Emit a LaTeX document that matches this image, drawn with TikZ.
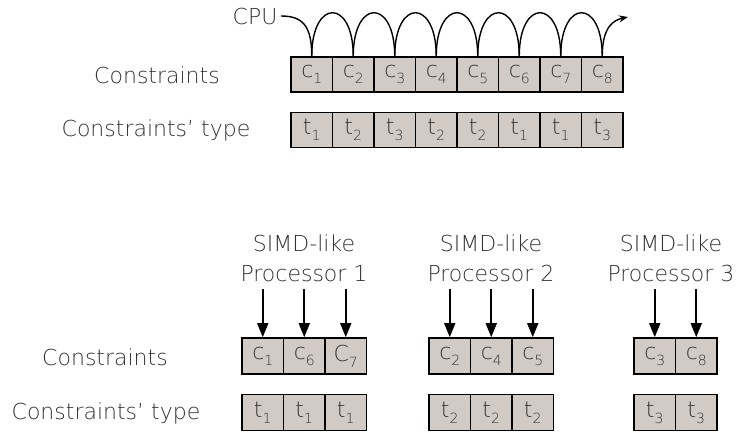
\documentclass[tikz,border=0pt]{standalone}
\usepackage{fontspec}
\IfFontExistsTF{DejaVu Sans ExtraLight}{\setmainfont{DejaVu Sans ExtraLight}}{\setmainfont{DejaVu Sans}}
\usetikzlibrary{arrows.meta,positioning}

\definecolor{boxgray}{HTML}{D2CBC5}
\definecolor{textgray}{HTML}{333333}
\newcommand\idx[1]{\raisebox{-6pt}{\fontsize{14}{14}\selectfont #1}}

\tikzset{
  cbox/.style={draw, line width=1.6pt, fill=boxgray, minimum width=41.5pt,
    minimum height=35pt, inner sep=0pt, text=textgray,
    font=\fontsize{22}{24}\selectfont},
  lbl/.style={text=textgray, font=\fontsize{22}{30}\selectfont, align=center},
  hop/.style={line width=1.4pt},
  feed/.style={line width=1.6pt, -{Triangle[length=14pt,width=11pt]}},
}

\begin{document}
\begin{tikzpicture}[x=1pt,y=-1pt]
  \useasboundingbox (0,0) rectangle (737,433);

  % draw constraints and their types
  \foreach \t [count=\i] in {1,2,3,2,2,1,1,3} {
    \node[cbox] (c\i) at ({291+41.5*(\i-0.5)},74.5) {c\idx{\i}};
    \node[cbox] (t\i) at ({291+41.5*(\i-0.5)},130) {t\idx{\t}};
  }
  \node[lbl] (cons) at (157,75) {Constraints};
  \node[lbl] (type) at (156,130) {Constraints' type};

  % draw CPU path over the constraints
  \node[lbl, anchor=east] (cpu) at (281,16) {CPU};
  \coordinate (out) at (628,17);
  \draw[hop] (cpu.east) .. controls +(22,0) and +(0,-30) .. (c1.north);
  \foreach \i [count=\j from 2] in {1,...,7}
    \draw[hop] (c\i.north) .. controls +(0,-58) and +(0,-58) .. (c\j.north);
  \draw[hop, -{Stealth[length=9pt,width=7pt]}] (c8.north) .. controls +(0,-30) and +(-14,3) .. (out);

  % draw SIMD-like processors
  \foreach \g/\x/\lx/\items/\tt in {1/242/304/{c/1,c/6,C/7}/1,
                                    2/429/491/{c/2,c/4,c/5}/2,
                                    3/634/671/{c/3,c/8}/3} {
    \node[lbl] (simd\g) at (\lx,258) {SIMD-like\\Processor \g};
    \foreach \l/\s [count=\k] in \items {
      \node[cbox, minimum height=36pt] (pc\g-\k) at ({\x+41.5*(\k-0.5)},356) {\l\idx{\s}};
      \node[cbox, minimum height=36pt] (pt\g-\k) at ({\x+41.5*(\k-0.5)},412.5) {t\idx{\tt}};
      \coordinate[above=48pt of pc\g-\k] (in\g-\k);
      \draw[feed] (in\g-\k) -- (pc\g-\k);
    }
  }
  \node[lbl] (cons2) at (105,357) {Constraints};
  \node[lbl] (type2) at (106,413) {Constraints' type};
\end{tikzpicture}
\end{document}
